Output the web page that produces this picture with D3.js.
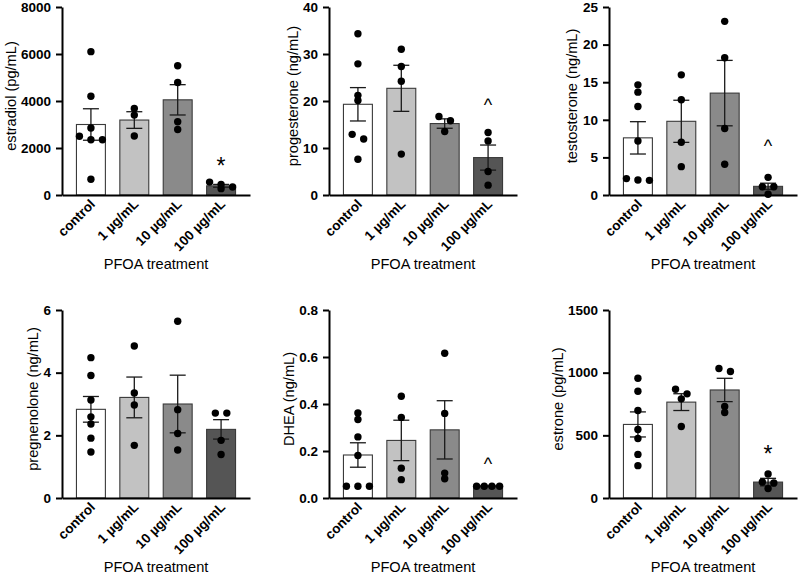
<!DOCTYPE html>
<html><head><meta charset="utf-8">
<script src="https://cdn.jsdelivr.net/npm/d3@7"></script>
<style>
html,body{margin:0;padding:0;background:#fff;}
svg{display:block;font-family:"Liberation Sans",Arial,sans-serif;}
</style></head>
<body>
<svg id="chart" width="800" height="575"></svg>
<script>
const categories = ["control", "1 µg/mL", "10 µg/mL", "100 µg/mL"];
const xAxisTitle = "PFOA treatment";

// estradiol (pg/mL)
const estradiolMean = [3000, 3190, 4050, 390];
const estradiolSem = [670, 354, 645, 60];
const estradiolPoints = [[6100, 4200, 2850, 2500, 2350, 2350, 670], [3680, 3400, 2510], [5500, 4790, 3120, 2790], [550, 450, 340, 270]];
const estradiolTicks = [0, 2000, 4000, 6000, 8000];
const estradiolMarks = ["", "", "", "*"];
const estradiolMarkAt = [null, null, null, 1450];

// progesterone (ng/mL)
const progesteroneMean = [19.3, 22.7, 15.2, 7.96];
const progesteroneSem = [3.55, 4.9, 1.0, 2.67];
const progesteronePoints = [[34.3, 27.9, 21.2, 20.1, 12.9, 11.9, 7.6], [31.0, 27.35, 24.2, 8.7], [16.7, 15.8, 13.5], [13.3, 11.5, 5.0, 2.1]];
const progesteroneTicks = [0, 10, 20, 30, 40];
const progesteroneMarks = ["", "", "", "^"];
const progesteroneMarkAt = [null, null, null, 19.8];

// testosterone (ng/mL)
const testosteroneMean = [7.6, 9.8, 13.55, 1.15];
const testosteroneSem = [2.15, 2.8, 4.35, 0.42];
const testosteronePoints = [[14.65, 13.68, 11.77, 7.19, 2.18, 2.0, 1.95], [15.98, 12.66, 7.02, 3.77], [23.09, 18.25, 8.84, 4.09], [2.35, 1.1, 1.1, 0.1]];
const testosteroneTicks = [0, 5, 10, 15, 20, 25];
const testosteroneMarks = ["", "", "", "^"];
const testosteroneMarkAt = [null, null, null, 7.0];

// pregnenolone (ng/mL)
const pregnenoloneMean = [2.83, 3.21, 3.0, 2.19];
const pregnenoloneSem = [0.41, 0.65, 0.92, 0.31];
const pregnenolonePoints = [[4.48, 3.91, 3.13, 2.59, 2.36, 1.91, 1.47], [4.85, 3.35, 2.97, 1.68], [5.64, 2.82, 2.06, 1.53], [2.71, 2.71, 1.84, 1.39]];
const pregnenoloneTicks = [0, 2, 4, 6];
const pregnenoloneMarks = ["", "", "", ""];
const pregnenoloneMarkAt = [null, null, null, null];

// DHEA (ng/mL)
const dheaMean = [0.183, 0.245, 0.29, 0.05];
const dheaSem = [0.052, 0.086, 0.124, 0.002];
const dheaPoints = [[0.362, 0.334, 0.26, 0.181, 0.05, 0.05, 0.05], [0.433, 0.343, 0.127, 0.078], [0.616, 0.36, 0.106, 0.082], [0.05, 0.05, 0.05, 0.05]];
const dheaTicks = [0.0, 0.2, 0.4, 0.6, 0.8];
const dheaMarks = ["", "", "", "^"];
const dheaMarkAt = [null, null, null, 0.16];

// estrone (pg/mL)
const estroneMean = [587, 765, 862, 127];
const estroneSem = [100, 67, 93, 30];
const estronePoints = [[956, 852, 698, 547, 475, 348, 258], [868, 831, 791, 571], [1033, 1009, 730, 682], [191, 128, 120, 75]];
const estroneTicks = [0, 500, 1000, 1500];
const estroneMarks = ["", "", "", "*"];
const estroneMarkAt = [null, null, null, 390];

const barFills = ["#ffffff", "#c2c2c2", "#8a8a8a", "#555555"];

const panels = [
  {title: "estradiol (pg/mL)", mean: estradiolMean, sem: estradiolSem, pts: estradiolPoints, ticks: estradiolTicks, fmt: d3.format("d"), marks: estradiolMarks, markAt: estradiolMarkAt, col: 0, row: 0},
  {title: "progesterone (ng/mL)", mean: progesteroneMean, sem: progesteroneSem, pts: progesteronePoints, ticks: progesteroneTicks, fmt: d3.format("d"), marks: progesteroneMarks, markAt: progesteroneMarkAt, col: 1, row: 0},
  {title: "testosterone (ng/mL)", mean: testosteroneMean, sem: testosteroneSem, pts: testosteronePoints, ticks: testosteroneTicks, fmt: d3.format("d"), marks: testosteroneMarks, markAt: testosteroneMarkAt, col: 2, row: 0},
  {title: "pregnenolone (ng/mL)", mean: pregnenoloneMean, sem: pregnenoloneSem, pts: pregnenolonePoints, ticks: pregnenoloneTicks, fmt: d3.format("d"), marks: pregnenoloneMarks, markAt: pregnenoloneMarkAt, col: 0, row: 1},
  {title: "DHEA (ng/mL)", mean: dheaMean, sem: dheaSem, pts: dheaPoints, ticks: dheaTicks, fmt: d3.format(".1f"), marks: dheaMarks, markAt: dheaMarkAt, col: 1, row: 1},
  {title: "estrone (pg/mL)", mean: estroneMean, sem: estroneSem, pts: estronePoints, ticks: estroneTicks, fmt: d3.format("d"), marks: estroneMarks, markAt: estroneMarkAt, col: 2, row: 1}
];

const axisXs = [62, 329, 609];
const rowTops = [7, 310];
const plotH = 188;
const plotW = 188;

const svg = d3.select("#chart");

function swarm(vals, y) {
  const items = vals.map(v => ({v, py: y(v)})).sort((a, b) => a.py - b.py);
  const rows = [];
  let cur = null;
  items.forEach(it => {
    if (cur && it.py - cur[0].py < 5) cur.push(it);
    else { cur = [it]; rows.push(cur); }
  });
  rows.forEach(r => {
    const n = r.length;
    const sp = n > 1 ? Math.min(11.5, 23 / (n - 1)) : 0;
    r.forEach((it, i) => { it.dx = (i - (n - 1) / 2) * sp; });
  });
  return items;
}

panels.forEach(p => {
  const ox = axisXs[p.col], oy = rowTops[p.row];
  const g = svg.append("g").attr("transform", `translate(${ox},${oy})`);
  const y = d3.scaleLinear().domain([p.ticks[0], p.ticks[p.ticks.length - 1]]).range([plotH, 0]);
  const x = d3.scaleBand().domain(categories).range([0, plotW]).paddingInner(0.333).paddingOuter(0.333);

  // bars
  g.selectAll("rect.bar").data(categories).enter().append("rect")
    .attr("x", d => x(d)).attr("width", x.bandwidth())
    .attr("y", (d, i) => y(p.mean[i])).attr("height", (d, i) => y(0) - y(p.mean[i]))
    .attr("fill", (d, i) => barFills[i]).attr("stroke", "#3a3a3a").attr("stroke-width", 1.1);

  // error bars
  categories.forEach((c, i) => {
    const cx = x(c) + x.bandwidth() / 2;
    const hi = y(p.mean[i] + p.sem[i]), lo = y(p.mean[i] - p.sem[i]);
    const eg = g.append("g").attr("stroke", "#1a1a1a").attr("stroke-width", 1.3);
    eg.append("line").attr("x1", cx).attr("x2", cx).attr("y1", hi).attr("y2", lo);
    eg.append("line").attr("x1", cx - 8).attr("x2", cx + 8).attr("y1", hi).attr("y2", hi);
    eg.append("line").attr("x1", cx - 8).attr("x2", cx + 8).attr("y1", lo).attr("y2", lo);
  });

  // points
  categories.forEach((c, i) => {
    const cx = x(c) + x.bandwidth() / 2;
    const items = swarm(p.pts[i], y);
    g.selectAll(null).data(items).enter().append("circle")
      .attr("cx", d => cx + d.dx).attr("cy", d => d.py).attr("r", 3.7).attr("fill", "#000");
  });

  // significance marks
  categories.forEach((c, i) => {
    if (!p.marks[i]) return;
    const cx = x(c) + x.bandwidth() / 2;
    const star = p.marks[i] === "*";
    const fs = star ? 23 : 18;
    g.append("text").attr("x", cx).attr("y", y(p.markAt[i]) + (star ? 0.57 : 0.52) * fs)
      .attr("text-anchor", "middle").attr("font-size", fs).attr("fill", "#000").text(p.marks[i]);
  });

  // y axis
  const ya = g.append("g").call(d3.axisLeft(y).tickValues(p.ticks).tickFormat(p.fmt).tickSize(6).tickSizeOuter(0));
  ya.select(".domain").attr("stroke", "#000").attr("stroke-width", 2);
  ya.selectAll(".tick line").attr("stroke", "#000").attr("stroke-width", 2);
  ya.selectAll(".tick text").attr("font-size", 13.5).attr("font-weight", "bold").attr("fill", "#000")
    .attr("font-family", "Liberation Sans, Arial, sans-serif").attr("x", -11);
  let maxW = 0;
  ya.selectAll(".tick text").each(function () { maxW = Math.max(maxW, this.getBBox().width); });

  // x axis
  const xa = g.append("g").attr("transform", `translate(0,${plotH})`)
    .call(d3.axisBottom(x).tickSize(0).tickSizeOuter(0));
  xa.select(".domain").attr("stroke", "#000").attr("stroke-width", 2);
  xa.selectAll(".tick text").attr("font-size", 13.5).attr("font-weight", "bold").attr("fill", "#000")
    .attr("font-family", "Liberation Sans, Arial, sans-serif")
    .attr("text-anchor", "end").attr("dy", null).attr("y", 0)
    .attr("transform", "translate(5,10) rotate(-45)");

  // titles
  g.append("text")
    .attr("transform", `translate(${-12 - maxW - 9},${plotH / 2 - 5}) rotate(-90)`)
    .attr("text-anchor", "middle").attr("dominant-baseline", "central")
    .attr("font-size", 14.6).attr("fill", "#000").text(p.title);
  g.append("text").attr("x", plotW / 2).attr("y", 262)
    .attr("text-anchor", "middle").attr("font-size", 14.6).attr("fill", "#000").text(xAxisTitle);
});
</script>
</body></html>
